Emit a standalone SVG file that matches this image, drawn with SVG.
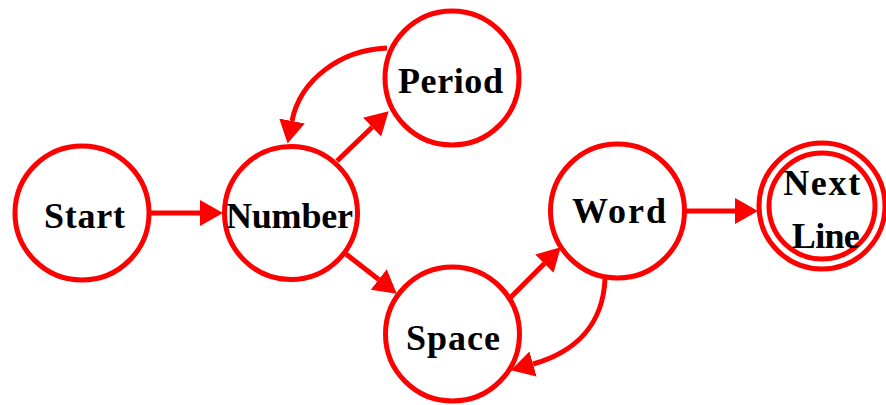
<svg xmlns="http://www.w3.org/2000/svg" width="886" height="405" viewBox="0 0 886 405">
<style>
.node{fill:#fff;stroke:#ff0000;stroke-width:5}
.lbl{font-family:"Liberation Serif","Times New Roman",serif;font-weight:bold;font-size:36px;fill:#000;text-anchor:middle}
.edge{fill:none;stroke:#ff0000;stroke-width:5;marker-end:url(#ah)}
</style>
<defs>
<marker id="ah" markerUnits="userSpaceOnUse" markerWidth="24" markerHeight="28" refX="0" refY="13" orient="auto" viewBox="0 0 24 26">
<path d="M0,0 L23,13 L0,26 z" fill="#ff0000"/>
</marker>
</defs>
<rect width="886" height="405" fill="#fff"/>
<g id="connectors">
<path class="edge" d="M150,213 L200,213"/>
<path class="edge" d="M686,211 L735,211"/>
<path class="edge" d="M337,161 L372.1,127.2"/>
<path class="edge" d="M346,254 L378.7,279.5"/>
<path class="edge" d="M510,298 L544.4,263.6"/>
<path class="edge" d="M387,48 C340,50 300,80 292,121"/>
<path class="edge" d="M605,279 C603,325 575,352 533,364"/>
</g>
<g id="start">
<circle class="node" cx="82" cy="213" r="67"/>
<text class="lbl" x="84.5" y="228" textLength="81" lengthAdjust="spacing">Start</text>
</g>
<g id="number">
<circle class="node" cx="291" cy="213" r="66.5"/>
<text class="lbl" x="289.5" y="228" textLength="127" lengthAdjust="spacing">Number</text>
</g>
<g id="period">
<circle class="node" cx="452" cy="78" r="67"/>
<text class="lbl" x="450.5" y="93" textLength="105" lengthAdjust="spacing">Period</text>
</g>
<g id="space">
<circle class="node" cx="452.5" cy="334" r="67"/>
<text class="lbl" x="453" y="350" textLength="94" lengthAdjust="spacing">Space</text>
</g>
<g id="word">
<circle class="node" cx="617.5" cy="211" r="67"/>
<text class="lbl" x="619" y="223" textLength="94" lengthAdjust="spacing">Word</text>
</g>
<g id="nextline">
<circle class="node" cx="822" cy="206" r="63"/>
<circle class="node" cx="822" cy="206" r="53"/>
<text class="lbl" x="821.7" y="195" textLength="77" lengthAdjust="spacing">Next</text>
<text class="lbl" x="825.8" y="248" textLength="68" lengthAdjust="spacing">Line</text>
</g>
</svg>
